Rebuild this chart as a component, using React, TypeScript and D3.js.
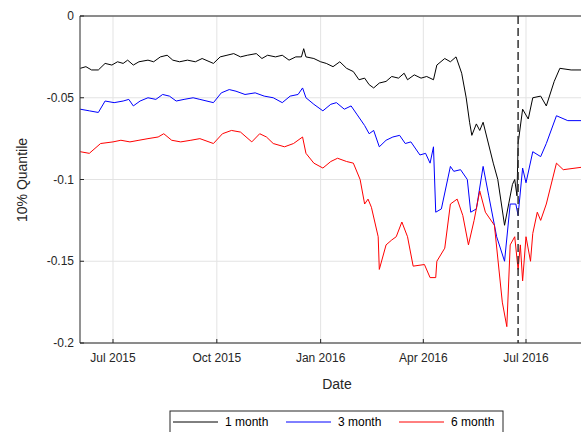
import * as d3 from "d3";

type Pt = [string, number];

const oneMonth: Pt[] = [
  ["2015-06-02", -0.032], ["2015-06-07", -0.031], ["2015-06-12", -0.033], ["2015-06-18", -0.033],
  ["2015-06-24", -0.029], ["2015-06-30", -0.03], ["2015-07-05", -0.028], ["2015-07-10", -0.029],
  ["2015-07-14", -0.027], ["2015-07-19", -0.03], ["2015-07-24", -0.028], ["2015-08-01", -0.027],
  ["2015-08-06", -0.028], ["2015-08-12", -0.025], ["2015-08-18", -0.024], ["2015-08-23", -0.027],
  ["2015-08-29", -0.028], ["2015-09-05", -0.027], ["2015-09-12", -0.028], ["2015-09-18", -0.026],
  ["2015-09-28", -0.029], ["2015-10-04", -0.025], ["2015-10-10", -0.024], ["2015-10-16", -0.023],
  ["2015-10-22", -0.025], ["2015-10-28", -0.024], ["2015-11-05", -0.023], ["2015-11-10", -0.026],
  ["2015-11-15", -0.024], ["2015-11-22", -0.025], ["2015-11-28", -0.024], ["2015-12-04", -0.027],
  ["2015-12-10", -0.025], ["2015-12-15", -0.025], ["2015-12-17", -0.02], ["2015-12-19", -0.025],
  ["2015-12-26", -0.026], ["2016-01-01", -0.028], ["2016-01-06", -0.029], ["2016-01-12", -0.031],
  ["2016-01-18", -0.028], ["2016-01-24", -0.032], ["2016-01-30", -0.034], ["2016-02-04", -0.039],
  ["2016-02-09", -0.038], ["2016-02-13", -0.042], ["2016-02-17", -0.044], ["2016-02-22", -0.041],
  ["2016-02-28", -0.04], ["2016-03-04", -0.037], ["2016-03-10", -0.038], ["2016-03-15", -0.035],
  ["2016-03-18", -0.039], ["2016-03-24", -0.036], ["2016-03-30", -0.038], ["2016-04-04", -0.037],
  ["2016-04-10", -0.039], ["2016-04-13", -0.03], ["2016-04-20", -0.026], ["2016-04-25", -0.028],
  ["2016-04-30", -0.025], ["2016-05-05", -0.035], ["2016-05-09", -0.05], ["2016-05-12", -0.065],
  ["2016-05-14", -0.073], ["2016-05-18", -0.066], ["2016-05-21", -0.07], ["2016-05-24", -0.065],
  ["2016-06-02", -0.09], ["2016-06-06", -0.1], ["2016-06-12", -0.128], ["2016-06-19", -0.103],
  ["2016-06-21", -0.1], ["2016-06-23", -0.11], ["2016-06-24", -0.078], ["2016-06-28", -0.057],
  ["2016-07-03", -0.063], ["2016-07-07", -0.05], ["2016-07-14", -0.049], ["2016-07-19", -0.055],
  ["2016-07-26", -0.04], ["2016-07-31", -0.032], ["2016-08-10", -0.033], ["2016-08-25", -0.033],
];

const threeMonth: Pt[] = [
  ["2015-06-02", -0.057], ["2015-06-10", -0.058], ["2015-06-18", -0.059], ["2015-06-24", -0.052],
  ["2015-07-02", -0.053], ["2015-07-10", -0.052], ["2015-07-15", -0.051], ["2015-07-19", -0.055],
  ["2015-07-25", -0.052], ["2015-08-01", -0.05], ["2015-08-08", -0.051], ["2015-08-14", -0.048],
  ["2015-08-20", -0.049], ["2015-08-26", -0.052], ["2015-09-02", -0.051], ["2015-09-10", -0.05],
  ["2015-09-16", -0.051], ["2015-09-28", -0.053], ["2015-10-05", -0.047], ["2015-10-12", -0.045],
  ["2015-10-18", -0.046], ["2015-10-26", -0.048], ["2015-11-04", -0.047], ["2015-11-12", -0.049],
  ["2015-11-20", -0.05], ["2015-11-28", -0.053], ["2015-12-05", -0.049], ["2015-12-12", -0.048],
  ["2015-12-16", -0.044], ["2015-12-19", -0.05], ["2015-12-26", -0.054], ["2016-01-03", -0.058],
  ["2016-01-10", -0.054], ["2016-01-15", -0.053], ["2016-01-22", -0.057], ["2016-01-28", -0.055],
  ["2016-02-02", -0.06], ["2016-02-09", -0.067], ["2016-02-13", -0.072], ["2016-02-17", -0.07],
  ["2016-02-22", -0.08], ["2016-02-28", -0.076], ["2016-03-05", -0.074], ["2016-03-11", -0.073],
  ["2016-03-16", -0.078], ["2016-03-21", -0.077], ["2016-03-29", -0.085], ["2016-04-03", -0.084],
  ["2016-04-07", -0.09], ["2016-04-10", -0.08], ["2016-04-12", -0.12], ["2016-04-17", -0.118],
  ["2016-04-25", -0.092], ["2016-04-28", -0.095], ["2016-05-04", -0.094], ["2016-05-10", -0.1],
  ["2016-05-13", -0.12], ["2016-05-18", -0.118], ["2016-05-24", -0.092], ["2016-05-29", -0.11],
  ["2016-06-05", -0.135], ["2016-06-12", -0.15], ["2016-06-17", -0.115], ["2016-06-22", -0.115],
  ["2016-06-24", -0.122], ["2016-06-28", -0.093], ["2016-07-01", -0.102], ["2016-07-07", -0.083],
  ["2016-07-14", -0.086], ["2016-07-19", -0.078], ["2016-07-28", -0.061], ["2016-08-07", -0.064],
  ["2016-08-25", -0.064],
];

const sixMonth: Pt[] = [
  ["2015-06-02", -0.083], ["2015-06-10", -0.084], ["2015-06-20", -0.078], ["2015-07-01", -0.077],
  ["2015-07-08", -0.076], ["2015-07-16", -0.077], ["2015-07-24", -0.076], ["2015-08-01", -0.075],
  ["2015-08-10", -0.074], ["2015-08-15", -0.072], ["2015-08-22", -0.076], ["2015-08-30", -0.077],
  ["2015-09-08", -0.076], ["2015-09-16", -0.075], ["2015-09-28", -0.078], ["2015-10-06", -0.072],
  ["2015-10-14", -0.07], ["2015-10-22", -0.071], ["2015-11-01", -0.077], ["2015-11-08", -0.072],
  ["2015-11-14", -0.074], ["2015-11-20", -0.078], ["2015-11-30", -0.08], ["2015-12-08", -0.078],
  ["2015-12-16", -0.074], ["2015-12-19", -0.084], ["2015-12-26", -0.09], ["2016-01-03", -0.093],
  ["2016-01-10", -0.089], ["2016-01-16", -0.087], ["2016-01-24", -0.089], ["2016-01-30", -0.09],
  ["2016-02-05", -0.1], ["2016-02-09", -0.115], ["2016-02-12", -0.112], ["2016-02-15", -0.117],
  ["2016-02-21", -0.135], ["2016-02-22", -0.155], ["2016-02-28", -0.14], ["2016-03-04", -0.137],
  ["2016-03-08", -0.135], ["2016-03-13", -0.126], ["2016-03-18", -0.135], ["2016-03-23", -0.153],
  ["2016-04-02", -0.152], ["2016-04-07", -0.16], ["2016-04-12", -0.16], ["2016-04-13", -0.15],
  ["2016-04-20", -0.142], ["2016-04-25", -0.115], ["2016-05-01", -0.112], ["2016-05-06", -0.122],
  ["2016-05-11", -0.14], ["2016-05-16", -0.125], ["2016-05-21", -0.107], ["2016-05-26", -0.12],
  ["2016-06-03", -0.128], ["2016-06-10", -0.175], ["2016-06-14", -0.19], ["2016-06-17", -0.14],
  ["2016-06-21", -0.135], ["2016-06-24", -0.155], ["2016-06-26", -0.14], ["2016-06-28", -0.162],
  ["2016-07-01", -0.135], ["2016-07-05", -0.15], ["2016-07-07", -0.133], ["2016-07-11", -0.12],
  ["2016-07-14", -0.125], ["2016-07-19", -0.115], ["2016-07-28", -0.09], ["2016-08-03", -0.094],
  ["2016-08-25", -0.092],
];

const series = [
  { name: "1 month", color: "#000000", data: oneMonth },
  { name: "3 month", color: "#0000ff", data: threeMonth },
  { name: "6 month", color: "#ff0000", data: sixMonth },
];

const yTicks = [0, -0.05, -0.1, -0.15, -0.2];
const xTicks = ["2015-07-01", "2015-10-01", "2016-01-01", "2016-04-01", "2016-07-01"];
const eventDate = "2016-06-24";

const W = 581;
const H = 432;
const m = { left: 80, top: 16, bottom: 343 };
const parse = d3.utcParse("%Y-%m-%d");
const font = "'Liberation Sans', Arial, sans-serif";

export default function App() {
  // anchored on the two July ticks, extrapolated to the frame edges
  const x = d3
    .scaleUtc()
    .domain([parse("2015-07-01")!, parse("2016-07-01")!])
    .range([113, 526]);
  const y = d3.scaleLinear().domain([-0.2, 0]).range([m.bottom, m.top]);
  const line = d3
    .line<Pt>()
    .x((d) => x(parse(d[0])!))
    .y((d) => y(d[1]));
  const fmtX = d3.utcFormat("%b %Y");
  const right = 600;

  return (
    <svg width={W} height={H} style={{ position: "absolute", left: 0, top: 0, background: "#fff" }} fontFamily={font}>
      <defs>
        <clipPath id="plot">
          <rect x={m.left} y={m.top} width={right - m.left} height={m.bottom - m.top} />
        </clipPath>
      </defs>
      {yTicks.map((t) => (
        <line key={t} x1={m.left} x2={right} y1={y(t)} y2={y(t)} stroke="#e3e3e3" />
      ))}
      {xTicks.map((t) => (
        <line key={t} x1={x(parse(t)!)} x2={x(parse(t)!)} y1={m.top} y2={m.bottom} stroke="#e3e3e3" />
      ))}
      <g clipPath="url(#plot)" fill="none" strokeWidth={1}>
        {series.map((s) => (
          <path key={s.name} d={line(s.data)!} stroke={s.color} />
        ))}
      </g>
      <line
        x1={x(parse(eventDate)!)}
        x2={x(parse(eventDate)!)}
        y1={m.top}
        y2={m.bottom}
        stroke="#333"
        strokeWidth={1.5}
        strokeDasharray="8,4"
      />
      <path d={`M${right},${m.top}H${m.left}V${m.bottom}H${right}`} fill="none" stroke="#262626" />
      {yTicks.map((t) => (
        <g key={t}>
          <line x1={m.left} x2={m.left + 4} y1={y(t)} y2={y(t)} stroke="#262626" />
          <text x={m.left - 6} y={y(t)} dy="0.35em" textAnchor="end" fontSize={12} fill="#262626">
            {t === 0 ? "0" : String(t)}
          </text>
        </g>
      ))}
      {xTicks.map((t) => (
        <g key={t}>
          <line x1={x(parse(t)!)} x2={x(parse(t)!)} y1={m.bottom} y2={m.bottom - 4} stroke="#262626" />
          <text x={x(parse(t)!)} y={m.bottom + 19} textAnchor="middle" fontSize={12} fill="#262626">
            {fmtX(parse(t)!)}
          </text>
        </g>
      ))}
      <text x={337} y={389} textAnchor="middle" fontSize={14} fill="#262626">Date</text>
      <text transform="translate(27,180) rotate(-90)" textAnchor="middle" fontSize={14} fill="#262626">
        10% Quantile
      </text>
      <rect x={170} y={411} width={333} height={30} fill="#fff" stroke="#262626" />
      {series.map((s, i) => {
        const lx = 173 + i * 113;
        return (
          <g key={s.name}>
            <line x1={lx} x2={lx + 45} y1={422} y2={422} stroke={s.color} />
            <text x={lx + 52} y={422} dy="0.35em" fontSize={12} fill="#000">{s.name}</text>
          </g>
        );
      })}
    </svg>
  );
}
